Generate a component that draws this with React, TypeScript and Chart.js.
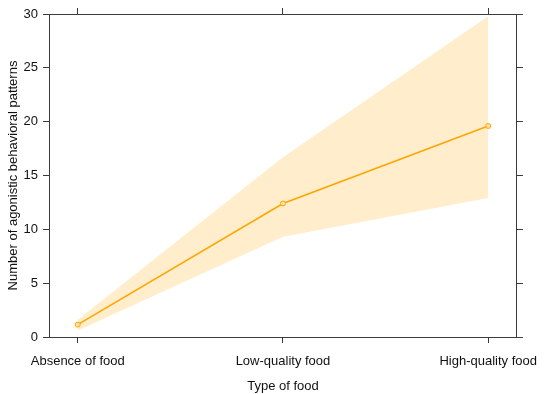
import React, { useEffect, useRef } from "react";
import { Chart, registerables } from "chart.js";

Chart.register(...registerables);

const categories = ["Absence of food", "Low-quality food", "High-quality food"];
const meanValues = [1.15, 12.4, 19.6];
const lowerValues = [0.6, 9.3, 12.9];
const upperValues = [1.6, 16.7, 29.8];
const yTicks = [0, 5, 10, 15, 20, 25, 30];

const FONT = "'Liberation Sans', Arial, Helvetica, sans-serif";
const AXIS = "#3a3a3a";
const ORANGE = "#FFA500";

export default function App() {
  const ref = useRef<HTMLCanvasElement | null>(null);
  useEffect(() => {
    if (!ref.current) return;
    const pts = (arr: number[]) => arr.map((v, i) => ({ x: i, y: v }));
    const catTicks = (scale: any) => {
      scale.ticks = categories.map((_, i) => ({ value: i }));
    };
    const yTickSet = (scale: any) => {
      scale.ticks = yTicks.map((v) => ({ value: v }));
    };
    const grid = {
      drawOnChartArea: false,
      drawTicks: true,
      tickLength: 6,
      color: AXIS,
      lineWidth: 1,
    };
    const border = { display: true, color: AXIS, width: 1 };
    const chart = new Chart(ref.current, {
      type: "line",
      data: {
        datasets: [
          {
            label: "mean",
            data: pts(meanValues),
            borderColor: ORANGE,
            borderWidth: 1.5,
            pointRadius: 2.5,
            pointBorderWidth: 1,
            pointBorderColor: ORANGE,
            pointBackgroundColor: "#FFE0A8",
            fill: false,
            order: 0,
          },
          {
            label: "upper",
            data: pts(upperValues),
            borderWidth: 0,
            borderColor: "rgba(0,0,0,0)",
            pointRadius: 0,
            backgroundColor: "rgba(255,165,0,0.2)",
            fill: "+1",
            order: 1,
          },
          {
            label: "lower",
            data: pts(lowerValues),
            borderWidth: 0,
            borderColor: "rgba(0,0,0,0)",
            pointRadius: 0,
            fill: false,
            order: 2,
          },
        ],
      },
      options: {
        animation: false,
        responsive: false,
        maintainAspectRatio: false,
        layout: { padding: 0 },
        plugins: {
          legend: { display: false },
          tooltip: { enabled: false },
        },
        scales: {
          x: {
            type: "linear",
            position: "bottom",
            min: -0.14,
            max: 2.14,
            afterBuildTicks: catTicks,
            afterFit: (s: any) => {
              s.height = 57;
            },
            grid,
            border,
            ticks: {
              padding: 11,
              color: "#111",
              font: { family: FONT, size: 13 },
              maxRotation: 0,
              autoSkip: false,
              callback: (v: any) => categories[Number(v)] ?? "",
            },
            title: {
              display: true,
              text: "Type of food",
              color: "#111",
              font: { family: FONT, size: 13 },
              padding: { top: 0, bottom: 0 },
            },
          },
          x2: {
            type: "linear",
            position: "top",
            min: -0.14,
            max: 2.14,
            afterBuildTicks: catTicks,
            afterFit: (s: any) => {
              s.height = 14;
            },
            grid,
            border,
            ticks: { display: true, callback: () => "", padding: 0 },
          },
          y: {
            type: "linear",
            position: "left",
            min: 0,
            max: 30,
            afterBuildTicks: yTickSet,
            afterFit: (s: any) => {
              s.width = 49;
            },
            grid,
            border,
            ticks: {
              padding: 5,
              color: "#111",
              font: { family: FONT, size: 13 },
            },
            title: {
              display: true,
              text: "Number of agonistic behavioral patterns",
              color: "#111",
              font: { family: FONT, size: 13 },
              padding: { top: 6, bottom: 0 },
            },
          },
          y2: {
            type: "linear",
            position: "right",
            min: 0,
            max: 30,
            afterBuildTicks: yTickSet,
            afterFit: (s: any) => {
              s.width = 32;
            },
            grid,
            border,
            ticks: { display: true, callback: () => "", padding: 0 },
          },
        },
      },
    });
    return () => chart.destroy();
  }, []);
  return (
    <div style={{ position: "fixed", left: 0, top: 0, width: 550, height: 394, background: "#fff" }}>
      <canvas ref={ref} width={550} height={394} style={{ width: 550, height: 394, display: "block" }} />
    </div>
  );
}
